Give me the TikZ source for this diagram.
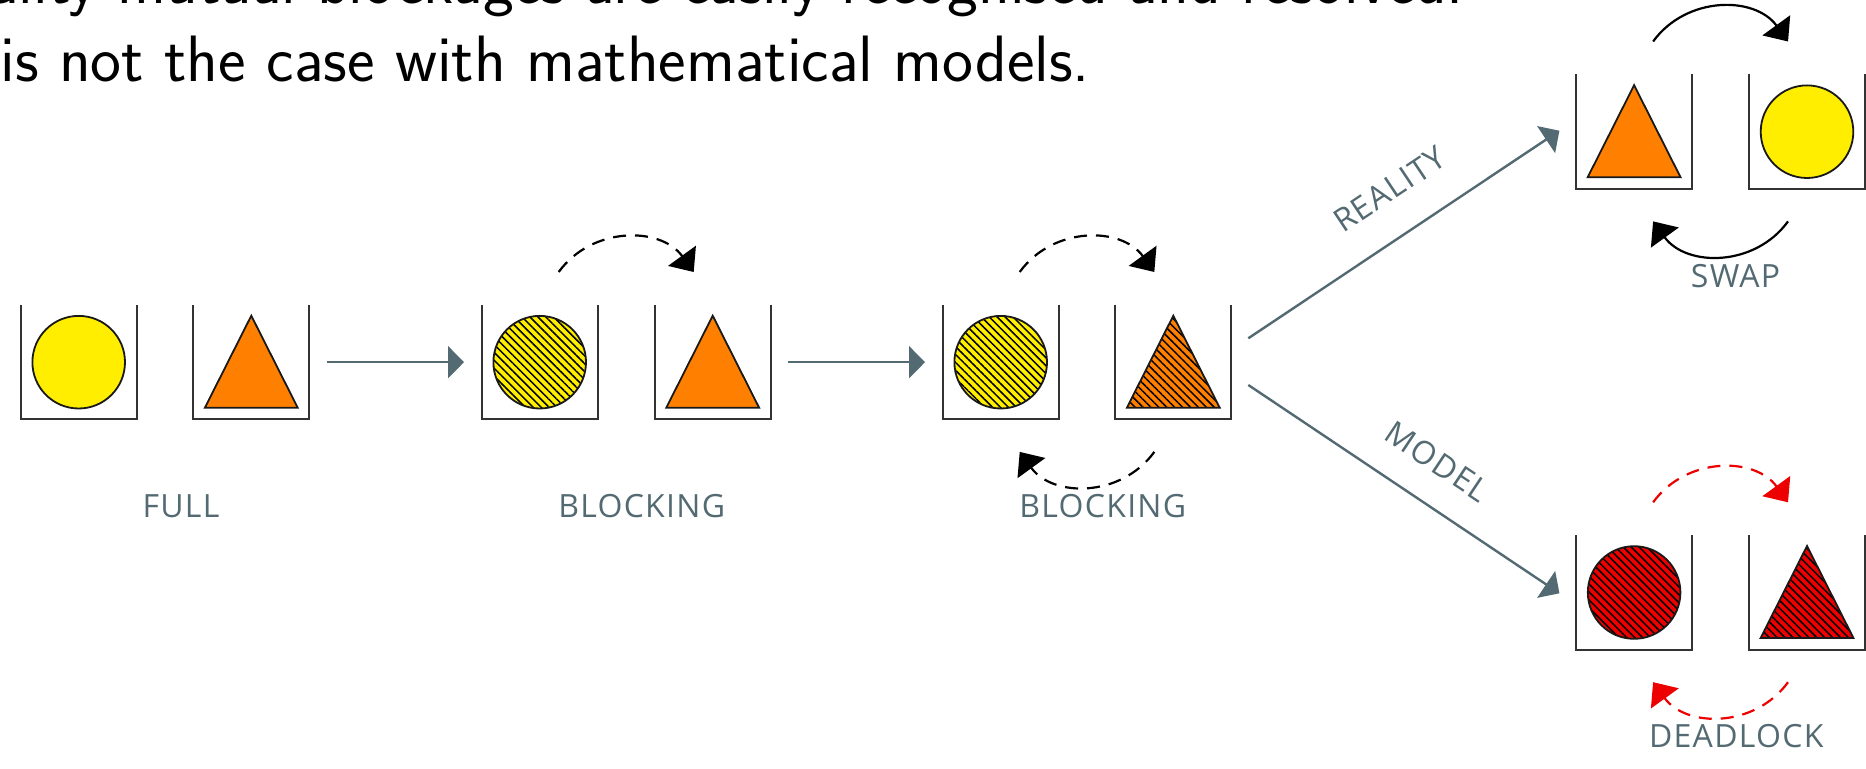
\documentclass[tikz,border=0pt]{standalone}
\usepackage{fontspec}
\newfontfamily\labfont[LetterSpace=4]{Open Sans}
\usetikzlibrary{arrows.meta,patterns.meta,calc}
\definecolor{ballyellow}{RGB}{255,238,0}
\definecolor{triorange}{RGB}{255,128,0}
\definecolor{deadred}{RGB}{236,0,0}
\definecolor{flowgray}{RGB}{84,106,114}
\tikzset{
  slot/.style={minimum width=58pt, minimum height=57.2pt, inner sep=0pt, outer sep=0pt},
  slotline/.style={draw=black!80, line width=1pt},
  ball/.style={circle, draw=black!90, line width=0.9pt, minimum size=46.3pt, inner sep=0pt},
  triline/.style={draw=black!90, line width=0.9pt, line join=miter},
  hatch/.style={pattern={Lines[angle=-45,distance=2.8pt,line width=0.75pt]}, pattern color=black},
  flow/.style={draw=flowgray, line width=1.2pt, -{Triangle[width=16pt,length=8pt]}},
  hop/.style={line width=1.1pt, -{Triangle[width=17pt,length=10pt]}},
  hopdash/.style={hop, dash pattern=on 6.5pt off 4.5pt},
  lab/.style={text=flowgray, inner sep=0pt, font=\labfont\fontsize{16}{19}\selectfont},
  headline/.style={anchor=base west, inner sep=0pt, font=\sffamily\fontsize{32.8}{39}\selectfont}
}
\newcommand\mkslot[3]{\node[slot] (#1) at (#2,#3) {};
  \draw[slotline] (#1.north west) -- (#1.south west) -- (#1.south east) -- (#1.north east);}
\newcommand\mktri[2]{\draw[triline,#2] ($(#1.center)+(0,-46.5)$) -- ($(#1.center)+(-46.4,45.5)$) -- ($(#1.center)+(46.4,45.5)$) -- cycle;}
\newcommand\toparc[3]{\draw[#3] ($(#1.north)+(19,-33)$) .. controls +(33.2,-45.8) and +(-33.2,-45.8) .. ($(#2.north)+(-19,-33)$);}
\newcommand\botarc[3]{\draw[#3] ($(#1.south)+(-19,32.5)$) .. controls +(-33.2,45.8) and +(33.2,45.8) .. ($(#2.south)+(19,32.5)$);}
\begin{document}
\begin{tikzpicture}[x=0.5pt,y=-0.5pt]
\useasboundingbox (0,0) rectangle (1866,769);
\clip (0,0) rectangle (1866,769);

% heading text
\node[headline] (line1) at (-11,4) {ality mutual blockages are easily recognised and resolved.};
\node[headline] (line2) at (0,81.7) {is not the case with mathematical models.};

% slots
\mkslot{b1}{78.7}{362.2}
\mkslot{b2}{251.3}{362.2}
\mkslot{b3}{539.7}{362.2}
\mkslot{b4}{712.7}{362.2}
\mkslot{b5}{1000.7}{362.2}
\mkslot{b6}{1173.3}{362.2}
\mkslot{b7}{1634.1}{131.7}
\mkslot{b8}{1807}{131.7}
\mkslot{b9}{1634.1}{592.5}
\mkslot{b10}{1807}{592.5}

% contents
\node[ball, fill=ballyellow] (c1) at (b1.center) {};
\mktri{b2}{fill=triorange}
\node[ball, preaction={fill=ballyellow}, hatch] (c3) at (b3.center) {};
\mktri{b4}{fill=triorange}
\node[ball, preaction={fill=ballyellow}, hatch] (c5) at (b5.center) {};
\mktri{b6}{preaction={fill=triorange}, hatch}
\mktri{b7}{fill=triorange}
\node[ball, fill=ballyellow] (c8) at (b8.center) {};
\node[ball, preaction={fill=deadred}, hatch] (c9) at (b9.center) {};
\mktri{b10}{preaction={fill=deadred}, hatch}

% hop arcs
\toparc{b3}{b4}{hopdash}
\toparc{b5}{b6}{hopdash}
\botarc{b6}{b5}{hopdash}
\toparc{b7}{b8}{hop}
\botarc{b8}{b7}{hop}
\toparc{b9}{b10}{hopdash, draw=deadred, -{Triangle[width=17pt,length=10pt,fill=deadred]}}
\botarc{b10}{b9}{hopdash, draw=deadred, -{Triangle[width=17pt,length=10pt,fill=deadred]}}

% flow arrows
\draw[flow, shorten <=8.7pt, shorten >=8.85pt] (b2) -- (b3);
\draw[flow, shorten <=8.7pt, shorten >=8.85pt] (b4) -- (b5);
\coordinate (r0) at (1248.3,338.3);
\coordinate (m0) at (1248.3,385);
\coordinate (r1) at (1559.4,130.7);
\coordinate (m1) at (1559.4,593.3);
\draw[flow] (r0) -- (r1);
\draw[flow] (m0) -- (m1);

% labels
\node[lab] (tFull) at (181,506.3) {FULL};
\node[lab] (tBlk1) at (641.7,505.8) {BLOCKING};
\node[lab] (tBlk2) at (1102.8,505.8) {BLOCKING};
\node[lab] (tSwap) at (1735.6,276.2) {SWAP};
\node[lab] (tDead) at (1736.2,736.2) {DEADLOCK};
\node[lab, rotate=33.7] (tReal) at (1389.7,189.2) {REALITY};
\node[lab, rotate=-33.7] (tModel) at (1437.6,461.7) {MODEL};
\end{tikzpicture}
\end{document}
